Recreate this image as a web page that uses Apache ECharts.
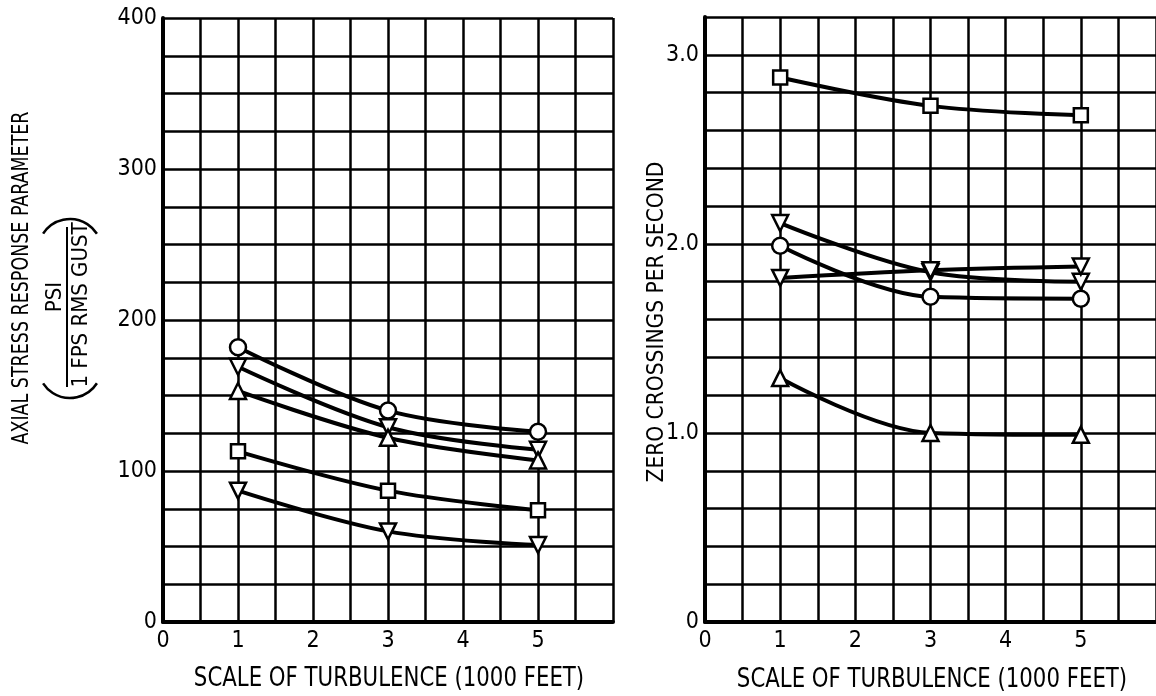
<!DOCTYPE html>
<html>
<head>
<meta charset="utf-8">
<script src="https://cdn.jsdelivr.net/npm/echarts@6/dist/echarts.min.js"></script>
<style>
  html, body { margin: 0; padding: 0; background: #fff; }
  #chart { width: 1156px; height: 696px; }
</style>
</head>
<body>
<div id="chart"></div>
<script>
// 横轴：紊流尺度（千英尺）
const scales = [1, 3, 5]

// 左图：轴向应力响应参数
const stressCircle = [182, 140, 126]
const stressDownTop = [169, 129, 114]
const stressUp = [153, 122, 107]
const stressSquare = [113, 87, 74]
const stressDownLow = [87, 60, 51]

// 右图：每秒过零次数
const zeroSquare = [2.88, 2.73, 2.68]
const zeroDownFall = [2.11, 1.85, 1.80]
const zeroCircle = [1.99, 1.72, 1.71]
const zeroDownFlat = [1.82, 1.86, 1.88]
const zeroUp = [1.29, 1.00, 0.99]

const xTicks = [0, 1, 2, 3, 4, 5]
const stressTicks = [0, 100, 200, 300, 400]
const zeroTicks = ['0', '1.0', '2.0', '3.0']

const font = "'DejaVu Sans Condensed', 'DejaVu Sans', sans-serif"
const chart = echarts.init(document.getElementById('chart'))

const pairs = (ys) => scales.map((x, i) => [x, ys[i]])

const makeSeries = (data, symbol, idx, down) => ({
  type: 'line',
  xAxisIndex: idx,
  yAxisIndex: idx,
  data: pairs(data),
  smooth: 0.35,
  symbol: symbol,
  symbolSize: symbol === 'rect' ? 14 : 16,
  symbolRotate: down ? 180 : 0,
  showAllSymbol: true,
  lineStyle: { color: '#000', width: 4 },
  itemStyle: { color: '#fff', borderColor: '#000', borderWidth: 2.5 },
  z: 3
})

const xAxisOf = (idx) => ({
  type: 'value',
  gridIndex: idx,
  min: 0,
  max: 6,
  interval: 0.5,
  axisLine: { show: true, onZero: false, lineStyle: { color: '#000', width: 4 } },
  axisTick: { show: false },
  splitLine: { show: true, lineStyle: { color: '#000', width: 2.5 } },
  axisLabel: {
    color: '#000', fontFamily: font, fontSize: 23, margin: 8,
    showMaxLabel: false,
    formatter: (v) => xTicks.includes(v) ? String(v) : ''
  }
})

const yLine = { show: true, lineStyle: { color: '#000', width: 4 } }
const ySplit = { show: true, lineStyle: { color: '#000', width: 2.5 } }

const rotText = (text, x, y, size, sx) => ({
  type: 'text',
  x: x,
  y: y,
  rotation: Math.PI / 2,
  scaleX: sx,
  style: {
    text: text, fill: '#000', fontFamily: font, fontSize: size,
    textAlign: 'center', textVerticalAlign: 'middle'
  }
})

const plainText = (text, x, y, size, sx) => ({
  type: 'text',
  x: x,
  y: y,
  scaleX: sx,
  style: {
    text: text, fill: '#000', fontFamily: font, fontSize: size,
    textAlign: 'center', textVerticalAlign: 'middle'
  }
})

const options = {
  backgroundColor: '#fff',
  animation: false,
  grid: [
    { left: 163, top: 18, width: 450, height: 604 },
    { left: 705, top: 17, width: 464, height: 605 }
  ],
  xAxis: [xAxisOf(0), xAxisOf(1)],
  yAxis: [
    {
      type: 'value', gridIndex: 0, min: 0, max: 400, interval: 25,
      axisLine: yLine, axisTick: { show: false }, splitLine: ySplit,
      axisLabel: {
        color: '#000', fontFamily: font, fontSize: 23, margin: 6,
        formatter: (v) => stressTicks.includes(v) ? String(v) : ''
      }
    },
    {
      type: 'value', gridIndex: 1, min: 0, max: 3.2, interval: 0.2,
      axisLine: yLine, axisTick: { show: false }, splitLine: ySplit,
      axisLabel: {
        color: '#000', fontFamily: font, fontSize: 23, margin: 6,
        formatter: (v) => {
          const s = v === 0 ? '0' : v.toFixed(1)
          return zeroTicks.includes(s) && Math.abs(v - Math.round(v)) < 1e-6 ? s : ''
        }
      }
    }
  ],
  graphic: [
    rotText('AXIAL STRESS RESPONSE PARAMETER', 22, 278, 23, 0.845),
    rotText('PSI', 55, 297, 22, 1),
    rotText('1 FPS RMS GUST', 81, 305, 22, 1),
    { type: 'line', shape: { x1: 67, y1: 227, x2: 67, y2: 387 }, style: { stroke: '#000', lineWidth: 2 } },
    { type: 'arc', shape: { cx: 70, cy: 251, r: 32, startAngle: -2.57, endAngle: -0.57 }, style: { stroke: '#000', lineWidth: 2.5, fill: null } },
    { type: 'arc', shape: { cx: 70, cy: 366, r: 32, startAngle: 0.57, endAngle: 2.57 }, style: { stroke: '#000', lineWidth: 2.5, fill: null } },
    rotText('ZERO CROSSINGS PER SECOND', 657, 322, 22.5, 1),
    plainText('SCALE OF TURBULENCE (1000 FEET)', 389, 679, 26, 0.91),
    plainText('SCALE OF TURBULENCE (1000 FEET)', 932, 680, 26, 0.91)
  ],
  series: [
    makeSeries(stressCircle, 'circle', 0, false),
    makeSeries(stressDownTop, 'triangle', 0, true),
    makeSeries(stressUp, 'triangle', 0, false),
    makeSeries(stressSquare, 'rect', 0, false),
    makeSeries(stressDownLow, 'triangle', 0, true),
    makeSeries(zeroSquare, 'rect', 1, false),
    makeSeries(zeroDownFall, 'triangle', 1, true),
    makeSeries(zeroCircle, 'circle', 1, false),
    makeSeries(zeroDownFlat, 'triangle', 1, true),
    makeSeries(zeroUp, 'triangle', 1, false)
  ]
}
chart.setOption(options)
</script>
</body>
</html>
